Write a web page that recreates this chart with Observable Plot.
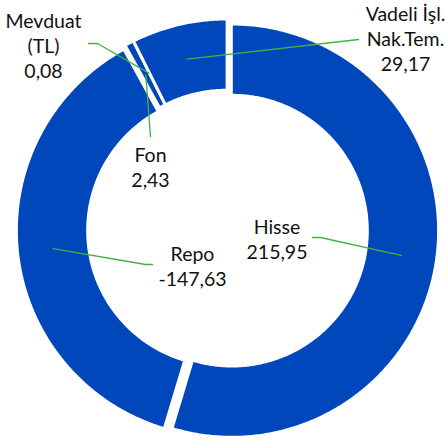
<!DOCTYPE html>
<html><head><meta charset="utf-8">
<script src="https://cdn.jsdelivr.net/npm/d3@7"></script>
<script src="https://cdn.jsdelivr.net/npm/@observablehq/plot@0.6"></script>
<style>html,body{margin:0;padding:0;background:#fff}svg{overflow:visible}</style>
</head><body><div id="chart"></div>
<script>
// ---- data ----
const categories = ["Hisse", "Repo", "Fon", "Mevduat (TL)", "Vadeli İşl. Nak.Tem."];
const values = [215.95, -147.63, 2.43, 0.08, 29.17];
const labelNames = ["Hisse", "Repo", "Fon", "Mevduat\n(TL)", "Vadeli İşl.\nNak.Tem."];

// ---- layout / style ----
const W = 445, H = 439, CX = 227, CY = 229.5;
const R_OUT = 206, R_IN = 136, EXPLODE = 4.5;
const BLUE = "#0047BB", GREEN = "#44B044";
const FONT = 19.5;
// label anchor (text centre x, baseline of last line) and leader elbows, in pixels
const labelLayout = [
  {x: 276.5, y: 258, path: [[320, 237], [312, 237]]},
  {x: 192, y: 285, path: [[145, 264], [152, 264]]},
  {x: 150, y: 186, path: [[150, 136]]},
  {x: 43, y: 77, path: [[97, 43], [88, 43]]},
  {x: 405, y: 70, path: [[358, 39]]}
];
const ux = px => px - CX, uy = py => CY - py;

const fmt = d3.formatLocale({decimal: ",", thousands: ".", grouping: [3], currency: ["", ""], minus: "-"}).format(".2f");

// pie geometry from |values|
const total = d3.sum(values, v => Math.abs(v));
let acc = 0;
const slices = categories.map((c, i) => {
  const a0 = acc / total * 2 * Math.PI;
  acc += Math.abs(values[i]);
  const a1 = acc / total * 2 * Math.PI;
  const mid = (a0 + a1) / 2;
  return {name: c, i, a0, a1, mid, ox: EXPLODE * Math.sin(mid), oy: EXPLODE * Math.cos(mid)};
});

const polys = [];
for (const s of slices) {
  const n = Math.max(2, Math.ceil((s.a1 - s.a0) / (Math.PI / 360)) + 1);
  const pts = [];
  for (let k = 0; k < n; k++) {
    const a = s.a0 + (s.a1 - s.a0) * k / (n - 1);
    pts.push([s.ox + R_OUT * Math.sin(a), s.oy + R_OUT * Math.cos(a)]);
  }
  for (let k = n - 1; k >= 0; k--) {
    const a = s.a0 + (s.a1 - s.a0) * k / (n - 1);
    pts.push([s.ox + R_IN * Math.sin(a), s.oy + R_IN * Math.cos(a)]);
  }
  pts.push(pts[0]);
  for (const [x, y] of pts) polys.push({name: s.name, x, y});
}

const leaders = [];
slices.forEach((s, i) => {
  const rm = (R_OUT + R_IN) / 2;
  leaders.push({name: s.name, x: s.ox + rm * Math.sin(s.mid), y: s.oy + rm * Math.cos(s.mid)});
  for (const [px, py] of labelLayout[i].path) leaders.push({name: s.name, x: ux(px), y: uy(py)});
});

const labels = slices.map((s, i) => ({
  name: s.name,
  text: labelNames[i] + "\n" + fmt(values[i]),
  x: ux(labelLayout[i].x),
  y: uy(labelLayout[i].y)
}));

const chart = Plot.plot({
  width: W, height: H,
  margin: 0,
  x: {domain: [-CX, W - CX], axis: null},
  y: {domain: [-(H - CY), CY], axis: null},
  style: {background: "#fff", fontFamily: "Lato, sans-serif"},
  marks: [
    Plot.line(polys, {x: "x", y: "y", z: "name", fill: BLUE, stroke: "white", strokeWidth: 1.7, curve: "linear", strokeLinejoin: "miter"}),
    Plot.line(leaders, {x: "x", y: "y", z: "name", stroke: GREEN, strokeWidth: 1.3, curve: "linear"}),
    Plot.text(labels, {x: "x", y: "y", text: "text", textAnchor: "middle", lineAnchor: "bottom", lineHeight: 25 / FONT, fontSize: FONT, fill: "#111"})
  ]
});
document.getElementById("chart").appendChild(chart);
</script>
</body></html>
